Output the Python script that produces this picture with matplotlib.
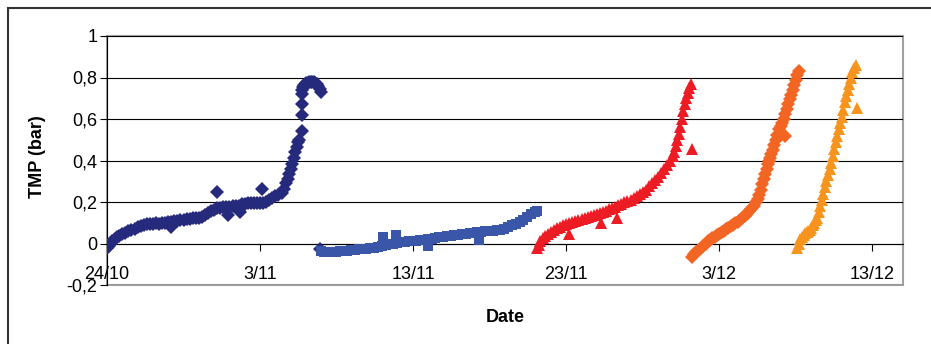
import matplotlib
matplotlib.use("Agg")
import matplotlib.pyplot as plt
import pandas as pd
from matplotlib.lines import Line2D
from matplotlib.patches import Rectangle

plt.rcParams["font.family"] = ["Liberation Sans", "DejaVu Sans"]

start = pd.Timestamp("2007-10-24")

# days since 24/10, TMP in bar
run1_days = [0, 0.1, 0.2, 0.35, 0.5, 0.65, 0.8, 1.0, 1.2, 1.4, 1.6, 1.8, 2.0, 2.2, 2.4,
             2.6, 2.8, 3.0, 3.2, 3.4, 3.6, 3.8, 4.0, 4.2, 4.4, 4.6, 4.8, 5.0, 5.2, 5.4,
             5.6, 5.8, 6.0, 6.2, 6.4, 6.6, 6.8, 7.0, 7.2, 7.4, 7.6, 7.8, 8.0, 8.2, 8.4,
             8.6, 8.8, 9.0, 9.2, 9.4, 9.6, 9.8, 10.0, 10.2, 10.4, 10.6, 10.8, 11.0, 11.2,
             11.4, 11.55, 11.7, 11.8, 11.9, 12.0, 12.1, 12.2, 12.3, 12.4, 12.5, 12.55,
             12.72, 12.75, 12.8, 12.9, 13.0, 13.1, 13.2, 13.3, 13.4, 13.5, 13.6, 13.7,
             13.8, 13.9, 13.96,
             12.75, 12.75, 12.75, 4.2, 7.2, 7.9, 8.7, 10.1, 13.9]
run1_tmp = [-0.02, -0.01, 0.0, 0.012, 0.022, 0.03, 0.038, 0.045, 0.052, 0.058, 0.064, 0.07,
            0.078, 0.085, 0.09, 0.092, 0.094, 0.096, 0.097, 0.095, 0.097, 0.1, 0.103, 0.106,
            0.108, 0.11, 0.112, 0.115, 0.117, 0.12, 0.121, 0.123, 0.125, 0.13, 0.135, 0.145,
            0.155, 0.162, 0.17, 0.172, 0.174, 0.176, 0.178, 0.18, 0.18, 0.183, 0.188, 0.192,
            0.195, 0.196, 0.195, 0.194, 0.193, 0.195, 0.2, 0.21, 0.22, 0.228, 0.232, 0.245,
            0.265, 0.29, 0.31, 0.335, 0.36, 0.385, 0.41, 0.44, 0.465, 0.49, 0.5,
            0.72, 0.74, 0.755, 0.765, 0.772, 0.775, 0.777, 0.778, 0.778, 0.777, 0.775, 0.77,
            0.76, 0.745, 0.73,
            0.54, 0.62, 0.67, 0.08, 0.25, 0.135, 0.15, 0.265, -0.025]

run2_days = [13.95, 14.2, 14.45, 14.7, 14.95, 15.2, 15.45, 15.7, 15.95, 16.2, 16.45, 16.7,
             16.95, 17.2, 17.45, 17.7, 17.95, 18.2, 18.45, 18.7, 18.95, 19.2, 19.45, 19.7,
             19.95, 20.2, 20.45, 20.7, 20.95, 21.2, 21.45, 21.7, 21.95, 22.2, 22.45, 22.7,
             22.95, 23.2, 23.45, 23.7, 23.95, 24.2, 24.45, 24.7, 24.95, 25.2, 25.45, 25.7,
             25.95, 26.2, 26.45, 26.7, 26.95, 27.2, 27.45, 27.7, 27.95, 28.1,
             18.0, 18.9, 24.3, 21.0]
run2_tmp = [-0.035, -0.04, -0.042, -0.04, -0.04, -0.038, -0.036, -0.034, -0.032, -0.03,
            -0.028, -0.027, -0.025, -0.022, -0.02, -0.016, -0.012, -0.008, -0.004, 0.0,
            0.003, 0.006, 0.008, 0.01, 0.012, 0.014, 0.016, 0.018, 0.02, 0.023, 0.026,
            0.029, 0.032, 0.035, 0.038, 0.04, 0.043, 0.045, 0.048, 0.05, 0.052, 0.054,
            0.056, 0.058, 0.06, 0.062, 0.063, 0.066, 0.072, 0.08, 0.088, 0.095, 0.105,
            0.115, 0.128, 0.14, 0.152, 0.158,
            0.03, 0.04, 0.015, -0.01]

run3_days = [28.1, 28.2, 28.3, 28.45, 28.6, 28.8, 29.0, 29.2, 29.4, 29.6, 29.8, 30.0, 30.2,
             30.4, 30.6, 30.8, 31.0, 31.2, 31.4, 31.6, 31.8, 32.0, 32.2, 32.4, 32.6, 32.8,
             33.0, 33.2, 33.4, 33.6, 33.8, 34.0, 34.2, 34.4, 34.6, 34.8, 35.0, 35.2, 35.4,
             35.6, 35.8, 36.0, 36.2, 36.4, 36.6, 36.8, 36.95, 37.05, 37.15, 37.25, 37.35,
             37.45, 37.55, 37.65, 37.75, 37.85, 37.95, 38.05, 38.15,
             38.2, 33.3, 32.3, 30.2]
run3_tmp = [-0.02, -0.005, 0.01, 0.025, 0.035, 0.047, 0.057, 0.065, 0.073, 0.08, 0.087,
            0.093, 0.098, 0.103, 0.108, 0.113, 0.118, 0.122, 0.127, 0.131, 0.135, 0.14,
            0.145, 0.15, 0.158, 0.165, 0.172, 0.178, 0.185, 0.192, 0.198, 0.205, 0.212,
            0.22, 0.23, 0.24, 0.25, 0.26, 0.275, 0.29, 0.305, 0.32, 0.34, 0.36, 0.38, 0.4,
            0.42, 0.44, 0.47, 0.5, 0.53, 0.56, 0.6, 0.64, 0.67, 0.7, 0.725, 0.75, 0.77,
            0.455, 0.125, 0.1, 0.048]

run4_days = [38.2, 38.35, 38.5, 38.65, 38.8, 38.95, 39.1, 39.25, 39.4, 39.55, 39.7, 39.85,
             40.0, 40.15, 40.3, 40.45, 40.6, 40.75, 40.9, 41.05, 41.2, 41.35, 41.5, 41.65,
             41.8, 41.95, 42.1, 42.25, 42.4, 42.5, 42.6, 42.7, 42.8, 42.9, 43.0, 43.1, 43.2,
             43.3, 43.4, 43.5, 43.6, 43.7, 43.8, 43.9, 44.0, 44.1, 44.2, 44.3, 44.4, 44.5,
             44.6, 44.7, 44.8, 44.9, 45.0, 45.1, 45.2,
             44.3, 43.25]
run4_tmp = [-0.065, -0.052, -0.04, -0.03, -0.02, -0.01, 0.0, 0.01, 0.018, 0.025, 0.032, 0.04,
            0.047, 0.054, 0.06, 0.068, 0.075, 0.082, 0.09, 0.097, 0.105, 0.113, 0.122, 0.132,
            0.143, 0.155, 0.168, 0.182, 0.2, 0.215, 0.235, 0.26, 0.285, 0.31, 0.335, 0.36,
            0.385, 0.41, 0.43, 0.45, 0.475, 0.5, 0.525, 0.55, 0.565, 0.58, 0.6, 0.625, 0.65,
            0.67, 0.695, 0.715, 0.74, 0.765, 0.79, 0.81, 0.83,
            0.52, 0.4]

run5_days = [45.1, 45.2, 45.3, 45.4, 45.5, 45.6, 45.7, 45.8, 45.9, 46.0, 46.1, 46.2, 46.3,
             46.4, 46.5, 46.6, 46.7, 46.8, 46.9, 47.0, 47.1, 47.2, 47.3, 47.4, 47.5, 47.6,
             47.7, 47.8, 47.9, 48.0, 48.1, 48.2, 48.3, 48.4, 48.5, 48.6, 48.7, 48.8, 48.9,
             49.0]
run5_tmp = [-0.02, 0.0, 0.02, 0.032, 0.042, 0.05, 0.055, 0.06, 0.065, 0.075, 0.09, 0.1,
            0.112, 0.125, 0.15, 0.18, 0.21, 0.24, 0.27, 0.3, 0.33, 0.36, 0.39, 0.42, 0.455,
            0.49, 0.52, 0.55, 0.58, 0.61, 0.645, 0.68, 0.71, 0.74, 0.77, 0.8, 0.825, 0.845,
            0.86, 0.655]

series = [
    (run1_days, run1_tmp, "#262a7c", "D", 7.0),
    (run2_days, run2_tmp, "#3a56a8", "s", 6.5),
    (run3_days, run3_tmp, "#ed1c24", "^", 8.0),
    (run4_days, run4_tmp, "#f26522", "D", 7.0),
    (run5_days, run5_tmp, "#f7941d", "^", 8.0),
]

tick_dates = ["2007-10-24", "2007-11-03", "2007-11-13", "2007-11-23", "2007-12-03", "2007-12-13"]
tick_labels = ["24/10", "3/11", "13/11", "23/11", "3/12", "13/12"]
y_ticks = [-0.2, 0, 0.2, 0.4, 0.6, 0.8, 1]
y_labels = ["-0,2", "0", "0,2", "0,4", "0,6", "0,8", "1"]

fig = plt.figure(figsize=(9.31, 3.44), dpi=100)
ax = fig.add_axes([107 / 931, 59 / 344, 796 / 931, 249 / 344])

for days, tmp, color, marker, ms in series:
    x = start + pd.to_timedelta(days, unit="D")
    ax.plot(x, tmp, linestyle="none", marker=marker, color=color, ms=ms, mew=0, zorder=3)

ax.set_xlim(start, start + pd.Timedelta(days=52))
ax.set_ylim(-0.2, 1)
ax.set_yticks(y_ticks)
ax.set_yticklabels(y_labels)
ax.set_xticks(pd.to_datetime(tick_dates))
ax.set_xticklabels(tick_labels)
ax.yaxis.grid(True, color="black", lw=0.8)
ax.set_axisbelow(True)

for side in ["top", "right"]:
    ax.spines[side].set_visible(False)
ax.spines["bottom"].set_position(("data", 0))
ax.spines["bottom"].set_color("black")
ax.spines["bottom"].set_linewidth(0.8)
ax.spines["left"].set_linewidth(0.8)
ax.add_patch(Rectangle((0, 0), 1, 1, transform=ax.transAxes, fill=False,
                       edgecolor="#a0a0a0", lw=1.5, clip_on=False, zorder=0))

ax.tick_params(axis="x", direction="out", length=5, pad=11, labelsize=13, width=0.8)
ax.tick_params(axis="y", direction="out", length=5, pad=2, labelsize=13, width=0.8)

fig.text(37 / 931, 1 - 157 / 344, "TMP (bar)", rotation=90, ha="center", va="center",
         fontsize=13, fontweight="bold")
fig.text(505 / 931, 1 - 318 / 344, "Date", ha="center", va="center",
         fontsize=13, fontweight="bold")

fig.add_artist(Line2D([7.5 / 931, 7.5 / 931], [0, 1 - 7.5 / 344], color="#333333", lw=1.5))
fig.add_artist(Line2D([7.5 / 931, 1], [1 - 7.5 / 344, 1 - 7.5 / 344], color="#333333", lw=1.5))

fig.savefig("out.png", dpi=100)
